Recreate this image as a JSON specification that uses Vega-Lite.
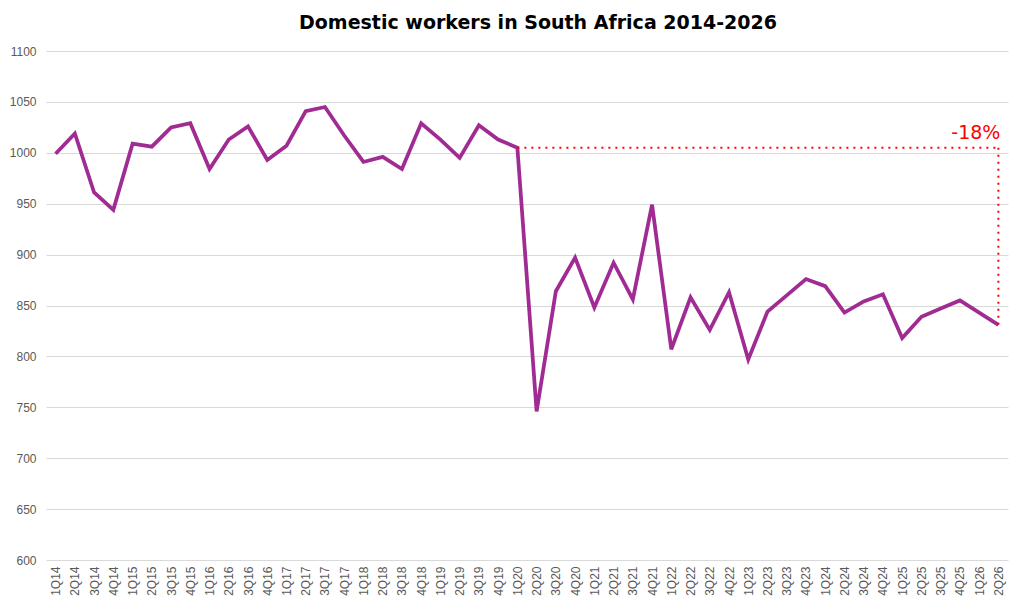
{
  "$schema": "https://vega.github.io/schema/vega-lite/v6.json",
  "autosize": "none",
  "width": 962,
  "height": 509,
  "padding": {"left": 46, "top": 51, "right": 16, "bottom": 45},
  "background": "white",
  "title": {
    "text": "Domestic workers in South Africa 2014-2026",
    "font": "DejaVu Sans",
    "fontSize": 19,
    "fontWeight": "bold",
    "color": "#000000",
    "anchor": "middle",
    "dx": 11,
    "offset": 12
  },
  "datasets": {
    "workers": [
      {"quarter": "1Q14", "workers": 999},
      {"quarter": "2Q14", "workers": 1019},
      {"quarter": "3Q14", "workers": 961},
      {"quarter": "4Q14", "workers": 944},
      {"quarter": "1Q15", "workers": 1009},
      {"quarter": "2Q15", "workers": 1006},
      {"quarter": "3Q15", "workers": 1025},
      {"quarter": "4Q15", "workers": 1029},
      {"quarter": "1Q16", "workers": 984},
      {"quarter": "2Q16", "workers": 1013},
      {"quarter": "3Q16", "workers": 1026},
      {"quarter": "4Q16", "workers": 993},
      {"quarter": "1Q17", "workers": 1007},
      {"quarter": "2Q17", "workers": 1041},
      {"quarter": "3Q17", "workers": 1045},
      {"quarter": "4Q17", "workers": 1017},
      {"quarter": "1Q18", "workers": 991},
      {"quarter": "2Q18", "workers": 996},
      {"quarter": "3Q18", "workers": 984},
      {"quarter": "4Q18", "workers": 1029},
      {"quarter": "1Q19", "workers": 1013},
      {"quarter": "2Q19", "workers": 995},
      {"quarter": "3Q19", "workers": 1027},
      {"quarter": "4Q19", "workers": 1013},
      {"quarter": "1Q20", "workers": 1005},
      {"quarter": "2Q20", "workers": 746},
      {"quarter": "3Q20", "workers": 864},
      {"quarter": "4Q20", "workers": 897},
      {"quarter": "1Q21", "workers": 848},
      {"quarter": "2Q21", "workers": 892},
      {"quarter": "3Q21", "workers": 856},
      {"quarter": "4Q21", "workers": 949},
      {"quarter": "1Q22", "workers": 807},
      {"quarter": "2Q22", "workers": 858},
      {"quarter": "3Q22", "workers": 826},
      {"quarter": "4Q22", "workers": 863},
      {"quarter": "1Q23", "workers": 797},
      {"quarter": "2Q23", "workers": 844},
      {"quarter": "3Q23", "workers": 860},
      {"quarter": "4Q23", "workers": 876},
      {"quarter": "1Q24", "workers": 869},
      {"quarter": "2Q24", "workers": 843},
      {"quarter": "3Q24", "workers": 854},
      {"quarter": "4Q24", "workers": 861},
      {"quarter": "1Q25", "workers": 818},
      {"quarter": "2Q25", "workers": 839},
      {"quarter": "3Q25", "workers": 847},
      {"quarter": "4Q25", "workers": 855},
      {"quarter": "1Q26", "workers": 843},
      {"quarter": "2Q26", "workers": 831}
    ],
    "change": [
      {"from": "1Q20", "to": "2Q26", "start": 1005, "end": 831, "label": "-18%"}
    ]
  },
  "config": {
    "view": {"stroke": null},
    "axis": {
      "labelFont": "Liberation Sans",
      "labelFontSize": 12,
      "labelColor": "#595959",
      "domain": false,
      "ticks": false,
      "title": null,
      "gridColor": "#d9d9d9",
      "gridWidth": 1
    }
  },
  "layer": [
    {
      "data": {"name": "workers"},
      "mark": {"type": "line", "color": "#A02B93", "strokeWidth": 3.75, "strokeJoin": "miter"},
      "encoding": {
        "x": {
          "field": "quarter",
          "type": "ordinal",
          "sort": null,
          "scale": {
            "type": "point",
            "padding": 0.5,
            "domain": ["1Q14", "2Q14", "3Q14", "4Q14", "1Q15", "2Q15", "3Q15", "4Q15", "1Q16", "2Q16", "3Q16", "4Q16", "1Q17", "2Q17", "3Q17", "4Q17", "1Q18", "2Q18", "3Q18", "4Q18", "1Q19", "2Q19", "3Q19", "4Q19", "1Q20", "2Q20", "3Q20", "4Q20", "1Q21", "2Q21", "3Q21", "4Q21", "1Q22", "2Q22", "3Q22", "4Q22", "1Q23", "2Q23", "3Q23", "4Q23", "1Q24", "2Q24", "3Q24", "4Q24", "1Q25", "2Q25", "3Q25", "4Q25", "1Q26", "2Q26"]
          },
          "axis": {"labelAngle": -90, "labelPadding": 6, "grid": false, "labelAlign": "right", "labelBaseline": "middle"}
        },
        "y": {
          "field": "workers",
          "type": "quantitative",
          "scale": {"domain": [600, 1100], "nice": false, "zero": false},
          "axis": {"values": [600, 650, 700, 750, 800, 850, 900, 950, 1000, 1050, 1100], "format": "d", "labelPadding": 10, "grid": true}
        }
      }
    },
    {
      "data": {"name": "change"},
      "mark": {"type": "rule", "color": "#FF0000", "strokeWidth": 2, "strokeDash": [2, 5]},
      "encoding": {
        "x": {"field": "from", "type": "ordinal", "sort": null},
        "x2": {"field": "to"},
        "y": {"field": "start", "type": "quantitative"}
      }
    },
    {
      "data": {"name": "change"},
      "mark": {"type": "rule", "color": "#FF0000", "strokeWidth": 2, "strokeDash": [2, 5]},
      "encoding": {
        "x": {"field": "to", "type": "ordinal", "sort": null},
        "y": {"field": "start", "type": "quantitative"},
        "y2": {"field": "end"}
      }
    },
    {
      "data": {"name": "change"},
      "mark": {"type": "text", "color": "#FF0000", "font": "DejaVu Sans", "fontSize": 19, "align": "right", "baseline": "alphabetic", "dx": 2, "dy": -9},
      "encoding": {
        "x": {"field": "to", "type": "ordinal", "sort": null},
        "y": {"field": "start", "type": "quantitative"},
        "text": {"field": "label"}
      }
    }
  ]
}
